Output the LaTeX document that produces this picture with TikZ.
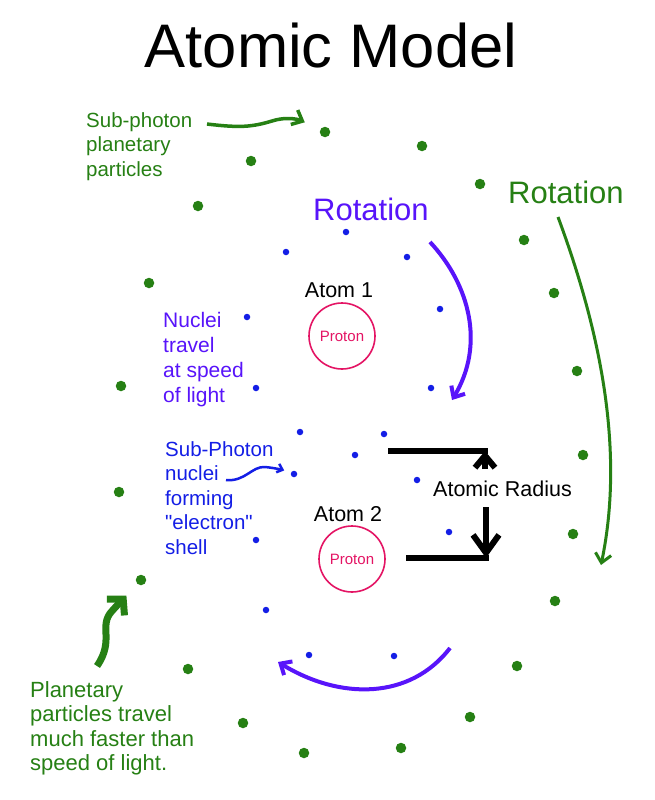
\documentclass[tikz,border=0pt]{standalone}
\usepackage{fontspec}
\setmainfont{Liberation Sans}
\usetikzlibrary{arrows.meta, positioning, calc}

\definecolor{planetgreen}{RGB}{38,128,20}
\definecolor{rotviolet}{RGB}{88,20,250}
\definecolor{nucblue}{RGB}{20,30,230}
\definecolor{protonred}{RGB}{228,20,100}

\begin{document}
\begin{tikzpicture}[
  x=1pt, y=-1pt,
  >={Straight Barb[length=9pt, width=16pt]},
  lbl/.style    ={align=left, inner sep=0pt, anchor=north west, font=\fontsize{20.5}{24.5}\selectfont},
  gdot/.style   ={circle, fill=planetgreen, inner sep=0pt, minimum size=10.5pt},
  bdot/.style   ={circle, fill=nucblue, inner sep=0pt, minimum size=6.5pt},
  proton/.style ={circle, draw=protonred, line width=1.6pt, minimum size=66pt, inner sep=0pt,
                  text=protonred, font=\fontsize{15}{18}\selectfont},
  atomlbl/.style={inner sep=0pt, font=\fontsize{21.5}{24}\selectfont},
  rotlbl/.style ={anchor=base west, inner sep=0pt, font=\fontsize{31}{36}\selectfont},
  garr/.style   ={->, planetgreen, line width=3pt},
  varr/.style   ={->, rotviolet, line width=4pt},
  barr/.style   ={->, nucblue, line width=2.5pt, >={Straight Barb[length=5pt, width=9pt]}},
  blk/.style    ={black, line width=6pt},
]
\fill[white] (0,0) rectangle (655,800);
\useasboundingbox (0,0) rectangle (655,800);

% --- title ---
\node[anchor=base, inner sep=0pt, font=\fontsize{61.5}{70}\selectfont] (title) at (331,67) {Atomic Model};

% --- outer shell: planetary particles ---
\node[gdot] (gtop) at (325,132) {};
\node[gdot] (gbot) at (141,580) {};
\foreach \p [count=\i] in {(251,161),(422,146),(480,184),(198,206),(524,240),(149,283),
    (554,293),(577,371),(121,386),(583,455),(119,492),(573,534),(555,601),(517,666),
    (188,669),(470,717),(243,723),(401,748),(304,753)}
  \node[gdot] (g\i) at \p {};

% --- inner shell: sub-photon nuclei ---
\node[bdot] (bmid) at (294,474) {};
\foreach \p [count=\i] in {(346,232),(286,252),(407,257),(247,317),(440,309),(256,388),
    (431,388),(300,432),(384,434),(355,455),(417,480),(256,540),(449,532),(266,610),
    (309,655),(394,656)}
  \node[bdot] (b\i) at \p {};

% --- the two atoms ---
\node[proton] (p1) at (342,336) {Proton};
\node[atomlbl, above=4pt of p1, xshift=-3pt] (atom1) {Atom 1};
\node[proton] (p2) at (352,559) {Proton};
\node[atomlbl, above=3.5pt of p2, xshift=-4pt] (atom2) {Atom 2};

% --- labels ---
\node[lbl, text=planetgreen] (subph) at (86,112) {Sub-photon\\planetary\\particles};
\node[lbl, text=rotviolet, font=\fontsize{21}{25}\selectfont] (nuclei) at (163,312) {Nuclei\\travel\\at speed\\of light};
\node[lbl, text=nucblue] (shell) at (165,441) {Sub-Photon\\nuclei\\forming\\\textquotedbl electron\textquotedbl\\shell};
\node[lbl, text=planetgreen, font=\fontsize{22}{24.5}\selectfont] (planet) at (30,681)
  {Planetary\\particles travel\\much faster than\\speed of light.};
\node[rotlbl, text=rotviolet] (rotp) at (313,220) {Rotation};
\node[rotlbl, text=planetgreen] (rotg) at (508,203) {Rotation};
\node[anchor=base west, inner sep=11pt, font=\fontsize{21.5}{24}\selectfont] (radius) at (422,496) {Atomic Radius};

% --- pointer arrows ---
\coordinate (subtail) at (207,124);
\draw[garr, line width=3.5pt, shorten >=17pt] (subtail) .. controls (240,128) and (252,127) .. (272,121)
  .. controls (288,116) and (300,120) .. (gtop);
\coordinate (shelltail) at (226,480);
\draw[barr, shorten >=7pt] (shelltail) .. controls (245,482) and (252,466) .. (265,467)
  .. controls (275,468) and (283,470) .. (bmid);
\coordinate (planettail) at (97,666);
\draw[garr, line width=7pt, >={Straight Barb[length=11pt, width=24pt]}, shorten >=16pt]
  (planettail) .. controls (115,640) and (98,626) .. (112,611) .. controls (120,602) and (128,594) .. (gbot);

% --- rotation arrows ---
\coordinate (rvtail) at (430,242);
\coordinate (rvhead) at (452,400);
\draw[varr] (rvtail) .. controls (470,285) and (485,345) .. (rvhead);
\coordinate (rbtail) at (450,648);
\coordinate (rbhead) at (278,662);
\draw[varr] (rbtail) .. controls (410,700) and (340,700) .. (rbhead);
\coordinate (rgtail) at (558,217);
\coordinate (rghead) at (601,565);
\draw[garr] (rgtail) .. controls (600,330) and (625,450) .. (rghead);

% --- atomic radius marker ---
\coordinate (rtopL) at (388,451);
\coordinate (rtop) at (485,451);
\coordinate (rbotL) at (406,558);
\coordinate (rbot) at (486,558);
\draw[blk] (rtopL) -- ($(rtop)+(3,0)$);
\draw[blk] (rbotL) -- ($(rbot)+(3,0)$);
\draw[blk, -{Straight Barb[length=12pt, width=20pt]}] (radius.north -| rtop) -- (rtop);
\draw[blk, -{Straight Barb[length=18pt, width=26pt]}] (radius.south -| rbot) -- (rbot);

\end{tikzpicture}
\end{document}
